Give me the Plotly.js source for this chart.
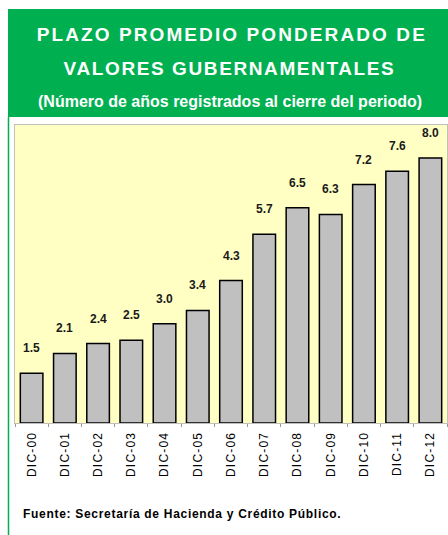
<!DOCTYPE html>
<html><head><meta charset="utf-8">
<script src="https://cdn.plot.ly/plotly-3.0.1.min.js"></script>
<style>html,body{margin:0;padding:0;background:#fff;}#chart{width:448px;height:535px;}
.xtick text{letter-spacing:1.2px;}
.annotation[data-index="13"] .annotation-text{letter-spacing:2.1px;}
.annotation[data-index="14"] .annotation-text{letter-spacing:1.6px;}
.annotation[data-index="16"] .annotation-text{letter-spacing:0.7px;}
</style>
</head><body><div id="chart"></div>
<script>
const categories = ["DIC-00","DIC-01","DIC-02","DIC-03","DIC-04","DIC-05","DIC-06","DIC-07","DIC-08","DIC-09","DIC-10","DIC-11","DIC-12"];
const values = [1.5,2.1,2.4,2.5,3.0,3.4,4.3,5.7,6.5,6.3,7.2,7.6,8.0];
const titleLines = ["PLAZO PROMEDIO PONDERADO DE","VALORES GUBERNAMENTALES"];
const subtitle = "(Número de años registrados al cierre del periodo)";
const source = "Fuente: Secretaría de Hacienda y Crédito Público.";

const W=448,H=535,L=15,R=1,T=125,B=112;
const pw=W-L-R, ph=H-T-B;
const px = x => (x-L)/pw;
const py = y => (H-B-y)/ph;

const trace = {
  type:'bar', x:categories, y:values,
  marker:{color:'#C0C0C0', line:{color:'#000000', width:1.5}},
  hoverinfo:'none'
};

const annotations = values.map((v,i)=>({
  x:categories[i], y:v, xref:'x', yref:'y', text:v.toFixed(1), showarrow:false,
  yanchor:'middle', yshift:25,
  font:{family:'Liberation Sans Narrow, Arial Narrow, Liberation Sans, Arial', size:12, color:'#1a1a1a', weight:'bold'}
}));
annotations.push({xref:'paper',yref:'paper',x:px(232),y:py(34),text:'<b>'+titleLines[0]+'</b>',showarrow:false,xanchor:'center',yanchor:'middle',font:{family:'Liberation Sans, Arial',size:19,color:'#ffffff'}});
annotations.push({xref:'paper',yref:'paper',x:px(229),y:py(68),text:'<b>'+titleLines[1]+'</b>',showarrow:false,xanchor:'center',yanchor:'middle',font:{family:'Liberation Sans, Arial',size:19,color:'#ffffff'}});
annotations.push({xref:'paper',yref:'paper',x:px(230),y:py(102),text:'<b>'+subtitle+'</b>',showarrow:false,xanchor:'center',yanchor:'middle',font:{family:'Liberation Sans Narrow, Arial Narrow, Liberation Sans, Arial',size:16,color:'#ffffff'}});
annotations.push({xref:'paper',yref:'paper',x:px(21),y:py(514),text:'<b>'+source+'</b>',showarrow:false,xanchor:'left',align:'left',yanchor:'middle',font:{family:'Liberation Sans, Arial',size:12,color:'#000000'}});

const layout = {
  width:W, height:H,
  margin:{l:L,r:R,t:T,b:B,pad:0},
  paper_bgcolor:'#ffffff', plot_bgcolor:'#FFFFC4',
  showlegend:false, bargap:0.32,
  xaxis:{type:'category', tickangle:-90, tickson:'boundaries', ticks:'outside', ticklen:3, tickcolor:'#999999',
    ticklabelstandoff:3,
    showline:true, linecolor:'#BFBFBF', linewidth:1, mirror:true, showgrid:false,
    tickfont:{family:'Liberation Sans, Arial', size:12, color:'#000000'}, fixedrange:true},
  yaxis:{range:[0,9], showticklabels:false, ticks:'', showgrid:false, zeroline:false,
    showline:true, linecolor:'#BFBFBF', linewidth:1, mirror:true, fixedrange:true},
  shapes:[
    {type:'rect', xref:'paper', yref:'paper', x0:px(8), x1:px(449), y0:py(117), y1:py(9), fillcolor:'#00B050', line:{width:0}, layer:'below'},
    {type:'line', xref:'paper', yref:'paper', x0:px(8.5), x1:px(8.5), y0:py(117), y1:py(536), line:{color:'#00B050', width:1.5}}
  ],
  annotations:annotations
};
Plotly.newPlot('chart',[trace],layout,{staticPlot:true, displayModeBar:false});
</script></body></html>
